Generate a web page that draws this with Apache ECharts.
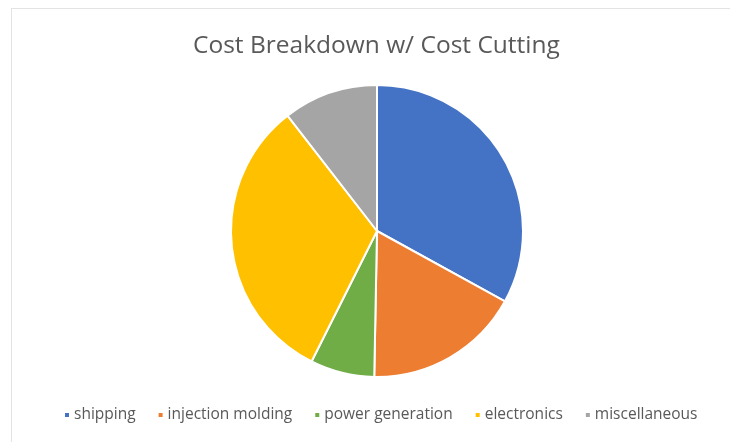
<!DOCTYPE html>
<html>
<head>
<meta charset="utf-8">
<script src="https://cdn.jsdelivr.net/npm/echarts@6/dist/echarts.min.js"></script>
<style>
html,body{margin:0;padding:0;background:#fff;}
#frame{position:absolute;left:11px;top:8px;width:730px;height:442px;border:1px solid #e3e3e3;box-sizing:border-box;}
#chart{position:absolute;left:0;top:0;width:730px;height:442px;}
</style>
</head>
<body>
<div id="frame"></div>
<div id="chart"></div>
<script>
const titleText = "Cost Breakdown w/ Cost Cutting";
const categories = ["shipping", "injection molding", "power generation", "electronics", "miscellaneous"];
const values = [33.0, 17.3, 7.1, 32.1, 10.5];
const colors = ["#4472C4", "#ED7D31", "#70AD47", "#FFC000", "#A5A5A5"];

const chart = echarts.init(document.getElementById('chart'));
chart.setOption({
  animation: false,
  color: colors,
  title: {
    text: titleText,
    left: 188,
    top: 29,
    textStyle: {fontFamily: 'Open Sans', fontSize: 24.5, fontWeight: 'normal', color: '#595959'}
  },
  legend: {
    bottom: 14,
    left: 58,
    icon: 'rect',
    itemWidth: 6,
    itemHeight: 6,
    itemGap: 21,
    textStyle: {fontFamily: 'Open Sans', fontSize: 15.5, color: '#595959', padding: [0,0,0,-1]},
    data: categories
  },
  series: [{
    type: 'pie',
    center: [377, 231],
    radius: 146,
    startAngle: 90,
    clockwise: true,
    label: {show: false},
    labelLine: {show: false},
    itemStyle: {borderColor: '#fff', borderWidth: 2},
    emphasis: {disabled: true},
    data: categories.map((c, i) => ({name: c, value: values[i]}))
  }]
});
</script>
</body>
</html>
